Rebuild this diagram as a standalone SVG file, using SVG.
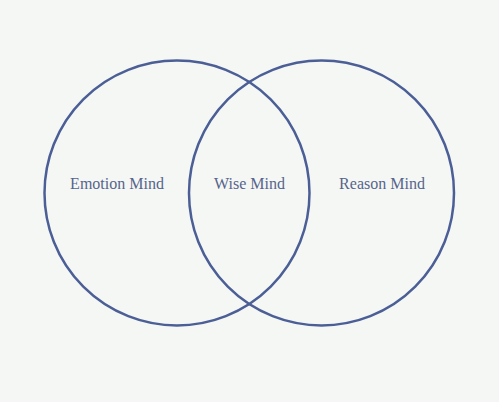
<svg xmlns="http://www.w3.org/2000/svg" width="499" height="402" viewBox="0 0 499 402">
<style>
.c{fill:none;stroke:#4b5f96;stroke-width:2.5}
.t{font-family:'Liberation Serif','Times New Roman',serif;font-size:16px;fill:#56648c;text-anchor:middle}
</style>
<rect width="499" height="402" fill="#f5f7f4"/>
<g id="emotion"><circle class="c" cx="177" cy="193" r="132.5"/><text class="t" x="117" y="188.5">Emotion Mind</text></g>
<g id="reason"><circle class="c" cx="321.5" cy="193" r="132.5"/><text class="t" x="382" y="188.5">Reason Mind</text></g>
<g id="wise"><text class="t" x="249.5" y="188.5">Wise Mind</text></g>
<g id="connectors"/>
</svg>
